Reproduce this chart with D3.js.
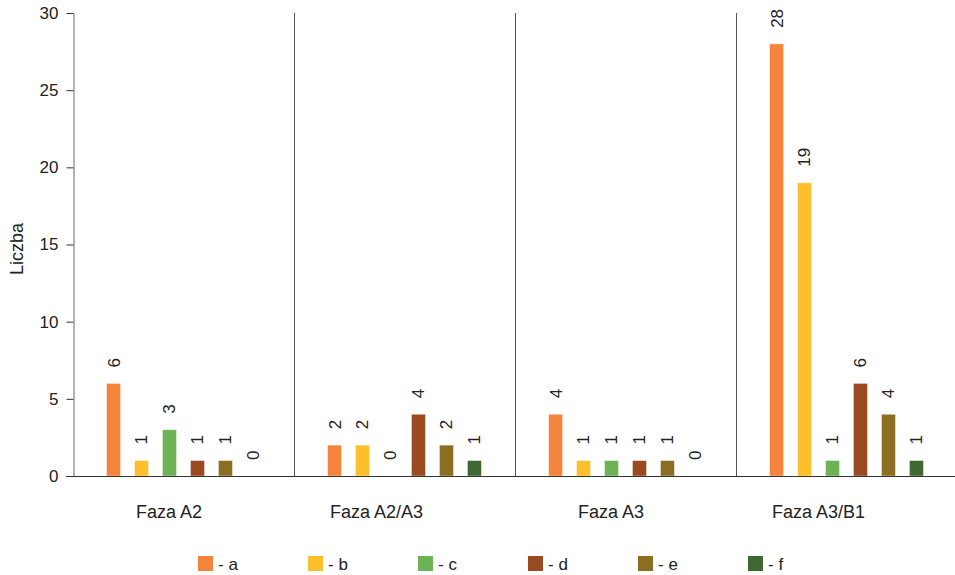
<!DOCTYPE html>
<html><head><meta charset="utf-8">
<script src="https://cdn.jsdelivr.net/npm/d3@7"></script>
<style>body{margin:0;background:#fff;}svg{display:block;font-family:"Liberation Sans",Arial,sans-serif;}</style>
</head><body><svg id="c" width="955" height="575"></svg>
<script>
const groups = ["Faza A2", "Faza A2/A3", "Faza A3", "Faza A3/B1"];
const series = ["a", "b", "c", "d", "e", "f"];
const colors = ["#F4843B", "#FDBF2C", "#6DB355", "#994A20", "#8C6E23", "#3F6833"];
const valuesA2 = [6, 1, 3, 1, 1, 0];
const valuesA2A3 = [2, 2, 0, 4, 2, 1];
const valuesA3 = [4, 1, 1, 1, 1, 0];
const valuesA3B1 = [28, 19, 1, 6, 4, 1];
const yTicks = [0, 5, 10, 15, 20, 25, 30];
const yLabel = "Liczba";

(function () {
const data = [valuesA2, valuesA2A3, valuesA3, valuesA3B1];
const svg = d3.select("#c");
const mLeft = 73, mRight = 957, mTop = 13, mBottom = 476;

const x0 = d3.scaleBand().domain(groups).range([mLeft, mRight]).padding(0);
const x1 = d3.scaleBand().domain(series).range([0, x0.bandwidth()]).paddingInner(0.5).paddingOuter(1.2);
const y = d3.scaleLinear().domain([0, 30]).range([mBottom, mTop]);
const color = d3.scaleOrdinal().domain(series).range(colors);

// separators
svg.append("g").selectAll("line").data(groups.slice(1)).join("line")
  .attr("x1", d => Math.round(x0(d)) + 0.5).attr("x2", d => Math.round(x0(d)) + 0.5)
  .attr("y1", mTop).attr("y2", mBottom).attr("stroke", "#555").attr("stroke-width", 1);

// y axis
const ya = svg.append("g").attr("transform", `translate(${mLeft + 0.5},0)`)
  .call(d3.axisLeft(y).tickValues(yTicks).tickSize(7).tickPadding(8).tickSizeOuter(0));
ya.select(".domain").attr("stroke", "#666");
ya.selectAll(".tick line").attr("stroke", "#333");
ya.selectAll("text").attr("font-size", 17).attr("fill", "#222").attr("font-family", "Liberation Sans, Arial, sans-serif");

// bars
const g = svg.append("g").selectAll("g").data(data).join("g")
  .attr("transform", (d, i) => `translate(${x0(groups[i])},0)`);
g.selectAll("rect").data(d => d.map((v, j) => ({v, s: series[j]}))).join("rect")
  .attr("x", d => x1(d.s)).attr("width", x1.bandwidth())
  .attr("y", d => y(d.v)).attr("height", d => y(0) - y(d.v))
  .attr("fill", d => color(d.s)).attr("stroke", "rgba(255,255,255,0.5)").attr("stroke-width", 0.8);
g.selectAll("text").data(d => d.map((v, j) => ({v, s: series[j]}))).join("text")
  .attr("transform", d => `translate(${x1(d.s) + x1.bandwidth() / 2},${y(d.v) - 16}) rotate(-90)`)
  .attr("text-anchor", "start").attr("dy", "0.35em")
  .attr("font-size", 17).attr("fill", "#222").text(d => d.v);

// x axis line
svg.append("line").attr("x1", 66).attr("x2", 955).attr("y1", mBottom + 0.5).attr("y2", mBottom + 0.5)
  .attr("stroke", "#333").attr("stroke-width", 1.2);

// group labels
svg.append("g").selectAll("text").data(groups).join("text")
  .attr("x", d => x0(d) + x0.bandwidth() - 92).attr("y", 518)
  .attr("text-anchor", "end").attr("font-size", 18).attr("fill", "#222").text(d => d);

// y label
svg.append("text").attr("transform", `translate(23,249) rotate(-90)`)
  .attr("text-anchor", "middle").attr("font-size", 18).attr("fill", "#222").text(yLabel);

// legend
const lg = svg.append("g").selectAll("g").data(series).join("g")
  .attr("transform", (d, i) => `translate(${198 + i * 110},556)`);
lg.append("rect").attr("width", 15).attr("height", 15).attr("fill", d => color(d));
lg.append("text").attr("x", 20).attr("y", 14).attr("font-size", 17).attr("fill", "#222").text(d => "- " + d);
})();
</script></body></html>
